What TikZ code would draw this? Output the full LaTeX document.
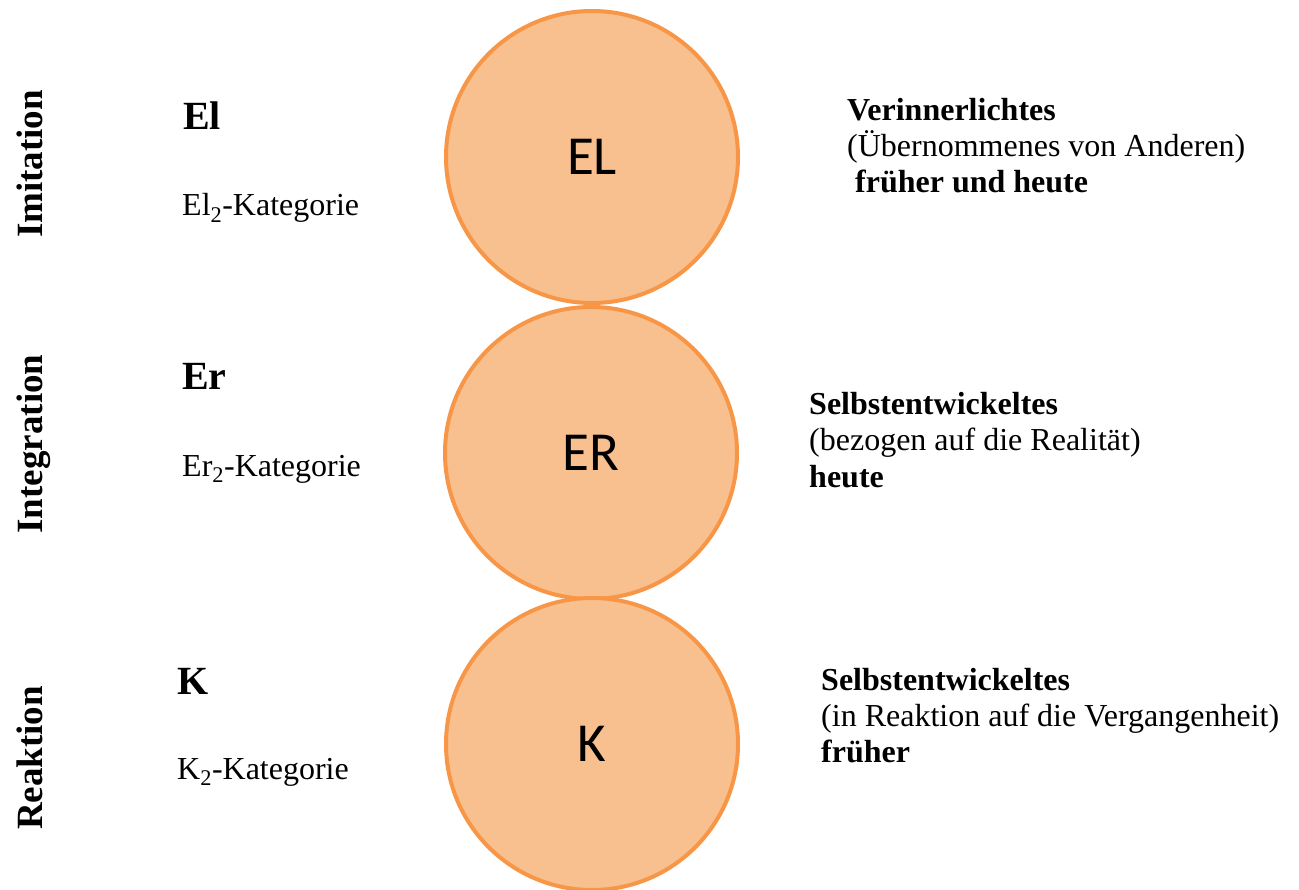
\documentclass[tikz,border=0pt]{standalone}
\usepackage{fontspec}
\setmainfont{Liberation Serif}
\newfontfamily\circfont{Carlito}
\definecolor{ringorange}{RGB}{247,150,70}
\definecolor{fillorange}{RGB}{249,192,143}
\begin{document}
\begin{tikzpicture}[x=1pt,y=-1pt,
  bubble/.style={circle,draw=ringorange,fill=fillorange,line width=4pt,
    minimum size=292pt,inner sep=0pt,font=\circfont\fontsize{55}{60}\selectfont},
  sidelabel/.style={rotate=90,anchor=base,inner sep=0pt,
    font=\fontsize{37}{44}\selectfont\bfseries},
  headlabel/.style={anchor=base west,inner sep=0pt,
    font=\fontsize{40}{48}\selectfont\bfseries},
  bodytext/.style={anchor=base west,inner sep=0pt,
    font=\fontsize{32}{36}\selectfont},
  boldtext/.style={bodytext,font=\fontsize{32}{36}\selectfont\bfseries}]
\useasboundingbox (0,0) rectangle (1299,890);

% the three stacked circles
\node[bubble] (el) at (592,157) {EL};
\node[bubble] (er) at (591,453) {ER};
\node[bubble] (k)  at (592,744) {K};

% rotated row titles
\node[sidelabel] (imit)  at (42,164) {Imitation};
\node[sidelabel] (integ) at (42,444) {Integration};
\node[sidelabel] (reak)  at (42,758) {Reaktion};

% left column: short names and categories
\node[headlabel] (elh) at (183,130) {El};
\node[bodytext]  (elc) at (182,216) {El\textsubscript{2}-Kategorie};
\node[headlabel] (erh) at (182,390) {Er};
\node[bodytext]  (erc) at (182,476) {Er\textsubscript{2}-Kategorie};
\node[headlabel] (kh)  at (177,694) {K};
\node[bodytext]  (kc)  at (177,779) {K\textsubscript{2}-Kategorie};

% right column: descriptions
\node[boldtext] (d1a) at (847,121) {Verinnerlichtes};
\node[bodytext] (d1b) at (847,157) {(Übernommenes von Anderen)};
\node[boldtext] (d1c) at (855,193) {früher und heute};

\node[boldtext] (d2a) at (809,415) {Selbstentwickeltes};
\node[bodytext] (d2b) at (809,451) {(bezogen auf die Realität)};
\node[boldtext] (d2c) at (809,487) {heute};

\node[boldtext] (d3a) at (821,690) {Selbstentwickeltes};
\node[bodytext] (d3b) at (821,726) {(in Reaktion auf die Vergangenheit)};
\node[boldtext] (d3c) at (821,762) {früher};
\end{tikzpicture}
\end{document}
